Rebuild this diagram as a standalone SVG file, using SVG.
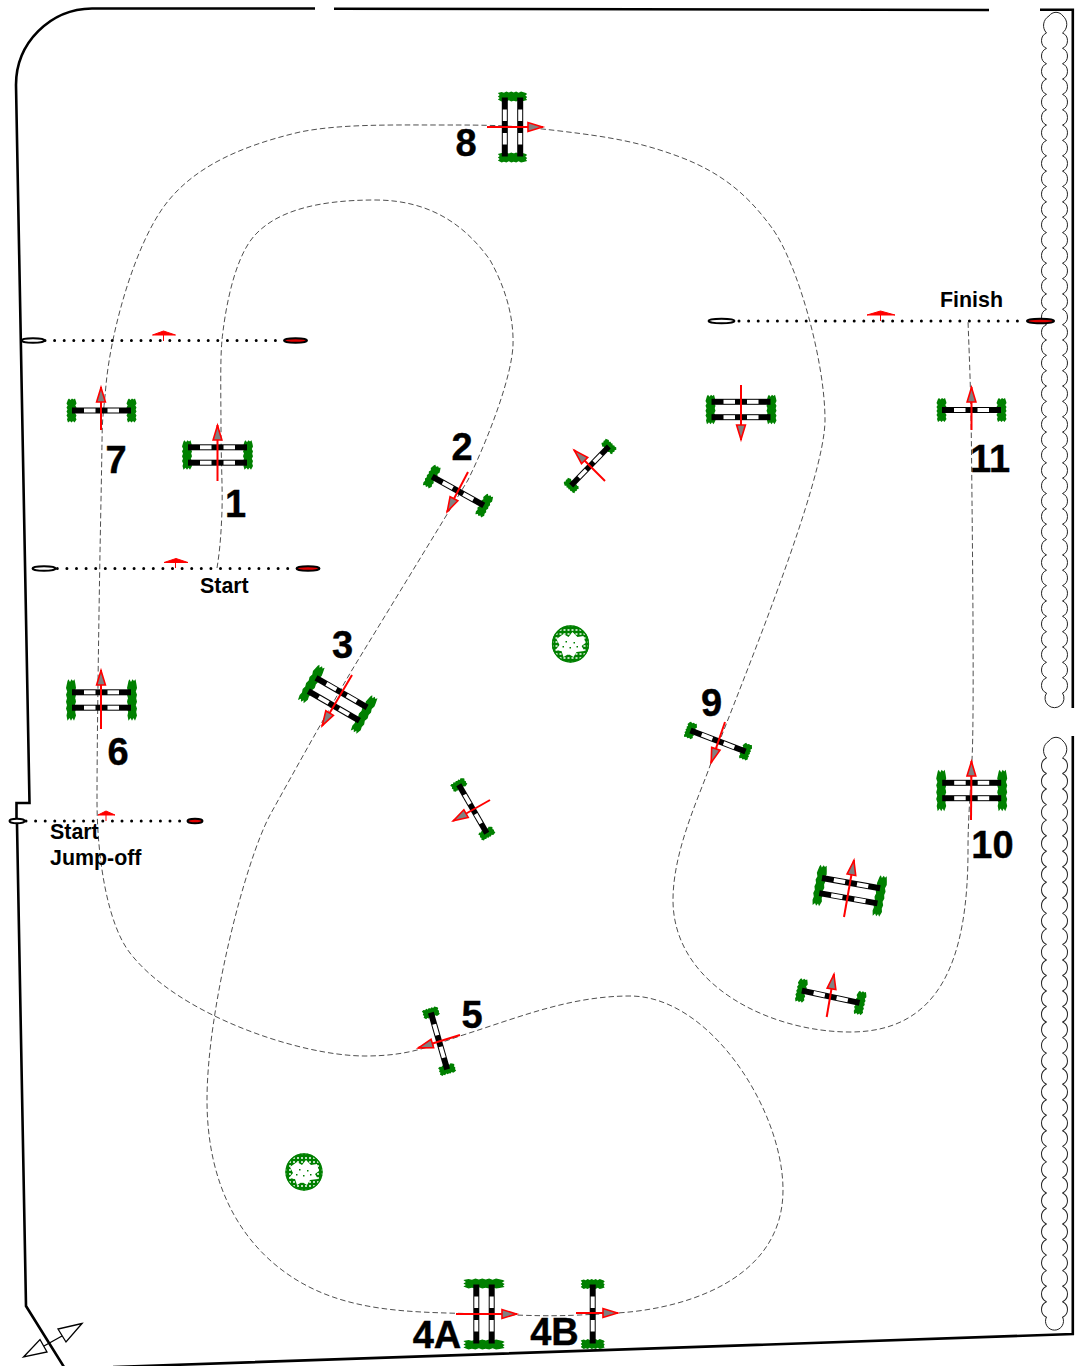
<svg xmlns="http://www.w3.org/2000/svg" width="1078" height="1366" viewBox="0 0 1078 1366">
<style>
.wall{fill:none;stroke:#000;stroke-width:2.6;stroke-linejoin:miter}
.hedge{fill:none;stroke:#222;stroke-width:1}
.course{fill:none;stroke:#222;stroke-width:.8;stroke-dasharray:5.500 3}
.dots{fill:none;stroke:#000;stroke-width:3;stroke-linecap:round;stroke-dasharray:0 9.6}
.post{stroke:#000;stroke-width:2}
.pw{fill:#fff}
.pr{fill:#e00000}
.flag{fill:#f00;stroke:#f00;stroke-width:1}
.arrow{fill:none;stroke:#f00;stroke-width:2;marker-end:url(#ah)}
.num{font-family:"Liberation Sans",Arial,sans-serif;font-weight:700;font-size:38px;fill:#000;stroke:#000;stroke-width:.4;text-anchor:middle}
.lab{font-family:"Liberation Sans",Arial,sans-serif;font-weight:700;font-size:21.4px;fill:#000}
.g{fill:#008000}
.dir{fill:#fff;stroke:#000;stroke-width:1.3}
</style>
<defs>
<marker id="ah" markerUnits="userSpaceOnUse" markerWidth="20" markerHeight="14" refX="17" refY="7" orient="auto">
<path d="M16.5 7L2 2.6V11.4Z" fill="#808080" stroke="#f00" stroke-width="1.6"/>
</marker>
<path id="b" class="g" d="M-3.500-11L-2.500-12L-1-10.500L.5-12L2-11L3.500-12L4.500-9L5-7L3.800-5L5-3L4.200-1L5 1L3.800 3L5 5L4.200 7L5 9L3 12L1.500 10.500L0 12L-1.500 10.500L-3.500 12L-4.500 9L-3.800 7L-5 5L-4 3L-5 1L-4-1L-5-3L-3.800-5L-5-7Z"/>
<g id="rail"><rect x="-29.5" y="-3" width="59" height="6"/><rect class="pw" x="-17.5" y="-2" width="11.5" height="4"/><rect class="pw" x="6" y="-2" width="11.5" height="4"/></g>
<g id="v"><use href="#b" x="-30"/><use href="#b" x="30"/><use href="#rail"/></g>
<g id="vs"><use href="#b" transform="translate(-29.500,0) scale(1,.7)"/><use href="#b" transform="translate(29.500,0) scale(1,.7)"/><use href="#rail"/></g>
<g id="o"><use href="#b" transform="translate(-30.500,0) scale(1,1.220)"/><use href="#b" transform="translate(30.500,0) scale(1,1.220)"/><path class="g" d="M-29-5L-26 0L-29 5ZM29-5L26 0L29 5Z"/><use href="#rail" y="-7.7"/><use href="#rail" y="7.7"/></g>
<g id="ol"><use href="#b" transform="translate(-30.500,0) scale(1,1.720)"/><use href="#b" transform="translate(30.500,0) scale(1,1.720)"/><path class="g" d="M-29-5L-26 0L-29 5ZM29-5L26 0L29 5Z"/><use href="#rail" y="-7.7"/><use href="#rail" y="7.7"/></g>
<pattern id="tp" width="4" height="4" patternUnits="userSpaceOnUse"><rect width="4" height="4" fill="#008000"/><circle cx="2" cy="2" r="1" fill="#fff"/></pattern>
<g id="tree"><circle r="18.5" fill="url(#tp)"/><circle r="18" fill="none" stroke="#008000" stroke-width="1.300"/><path fill="#fff" d="M-14-5L-7-10L-2-7L2-12L7-7L13-8L15-1L11 2L14 7L6 8L3 13L-2 10L-7 13L-9 7L-15 6L-11 1Z"/><path class="g" d="M-5-3h1.500v1.500h-1.500zM3-2h1.500v1.500h-1.500zM-1 3h1.500v1.500h-1.500zM6 2h1.500v1.500H6zM-8 2h1.500v1.500H-8z"/></g>
<path id="sc" d="M1046.500 0a8.400 8.400 0 0 0 0 15.350M1062.500 0a8.400 8.400 0 0 1 0 15.350"/>
<g id="sc4"><use href="#sc"/><use href="#sc" y="15.350"/><use href="#sc" y="30.700"/><use href="#sc" y="46.050"/></g>
<g id="sc12"><use href="#sc4"/><use href="#sc4" y="61.400"/><use href="#sc4" y="122.800"/></g>
</defs>
<g id="walls">
<path class="wall" d="M315 8.500H92C50 9 16 43 16 85L29.500 803H16.500V818M17 824L26 1306L64 1367"/>
<path class="wall" d="M334 8.700L989 10"/>
<path class="wall" d="M1040 9.700H1072.800V708"/>
<path class="wall" d="M1072.800 736V1334L113 1367"/>
</g>
<g id="hedges" class="hedge">
<path d="M1046.500 33A11 11 0 0 1 1049 16A8.500 8.500 0 0 1 1063 16A11 11 0 0 1 1062.500 33"/>
<g transform="translate(0,33)"><use href="#sc12"/><use href="#sc12" y="184.200"/><use href="#sc12" y="368.400"/><use href="#sc" y="552.600"/><use href="#sc" y="567.950"/><use href="#sc" y="583.300"/><use href="#sc" y="598.650"/><use href="#sc" y="614"/><use href="#sc" y="629.350"/><use href="#sc" y="644.700"/></g>
<path d="M1046.500 693.050A9.500 9.500 0 1 0 1062.500 693.050"/>
<path d="M1046.500 758A11 11 0 0 1 1049 741A8.500 8.500 0 0 1 1063 741A11 11 0 0 1 1062.500 758"/>
<g transform="translate(0,758) scale(1,1.012)"><use href="#sc12"/><use href="#sc12" y="184.200"/><use href="#sc12" y="368.400"/></g>
<path d="M1046.500 1317A9 9 0 1 0 1062.500 1317"/>
</g>
<g id="connectors">
<path id="course" class="course" d="M217 568C220 550 221.300 531 222 510S221 458 221 430S220 360 222 340C224 320 232 260 255 235C278 210 320 200 375 200C430 200 465 225 490 260C504 285 514 315 513 345C512 375 490 435 468 480L352 670C325 716 295 770 270 815C245 862 207 1010 207 1100C207 1190 245 1250 300 1282C355 1314 420 1312 484 1314S550 1317 617 1313S783 1280 783 1190C783 1110 710 996 630 996C570 996 520 1017 460 1036C430 1046 410 1056 365 1056C300 1056 178 1015 130 953C108 925 97 860 97 800S99 600 101 500S101 440 106 385C111 330 135 245 165 205C195 165 245 145 300 132C340 124 390 125 440 125S510 125 560 131C610 137 640 142 680 157C725 174 750 198 772 228C797 262 825 360 825 420C825 480 745 675 711 763C700 795 673 850 673 900C673 985 770 1032 850 1032C940 1032 968 960 968 850C968 820 970 800 972 760S973 600 972 500S971 400 968 321"/>
</g>
<g id="start-line">
<path class="dots" d="M45 340.500H280"/><ellipse class="post pw" cx="33" cy="340.500" rx="11.500" ry="2.300"/><ellipse class="post pr" cx="295.500" cy="340.500" rx="11.500" ry="2.300"/>
<path class="flag" d="M152.500 335L163.500 331L175.500 335Z"/><path class="flag" d="M163.500 335V341"/>
</g>
<g id="start-1">
<path class="dots" d="M57.300 568.500H290"/><ellipse class="post pw" cx="44" cy="568.500" rx="11.500" ry="2.300"/><ellipse class="post pr" cx="308" cy="568.500" rx="11.500" ry="2.300"/>
<path class="flag" d="M164 562.500L176 558.500L188 562.500Z"/><path class="flag" d="M175.500 562.500V568"/>
<text class="lab" x="200" y="593">Start</text>
</g>
<g id="start-jumpoff">
<path class="dots" d="M26 821H180"/><ellipse class="post pw" cx="17" cy="821" rx="7.500" ry="2.300"/><ellipse class="post pr" cx="195" cy="821" rx="7.500" ry="2.300"/>
<path class="flag" d="M98 815L106 811L115 815Z"/><path class="flag" d="M106 815V821"/>
<text class="lab" x="50" y="839">Start</text><text class="lab" x="50" y="865">Jump-off</text>
</g>
<g id="finish">
<path class="dots" d="M739 321H1020"/><ellipse class="post pw" cx="721.500" cy="321" rx="13" ry="2.300"/><ellipse class="post pr" cx="1040.500" cy="321" rx="13.500" ry="2.300"/>
<path class="flag" d="M867 315L880.500 311L895 315Z"/><path class="flag" d="M880.500 315V321"/>
<text class="lab" x="940" y="307">Finish</text>
</g>
<g id="jump-1"><use href="#o" transform="translate(217.500,455)"/><path class="arrow" d="M217.500 481V425"/><text class="num" x="235.500" y="517">1</text></g>
<g id="jump-2"><use href="#v" transform="translate(458,491) rotate(29)"/><path class="arrow" d="M468 472L447 512"/><text class="num" x="462" y="460">2</text></g>
<g id="jump-3"><use href="#ol" transform="translate(337.700,699.200) rotate(30)"/><path class="arrow" d="M352 675L322 726"/><text class="num" x="342.500" y="658">3</text></g>
<g id="jump-4a"><use href="#ol" transform="translate(484,1314) rotate(90)"/><path class="arrow" d="M456 1314H517"/><text class="num" x="437" y="1348">4A</text></g>
<g id="jump-4b"><use href="#v" transform="translate(592.700,1314) rotate(90)"/><path class="arrow" d="M576 1313H618"/><text class="num" x="554.500" y="1345">4B</text></g>
<g id="jump-5"><use href="#vs" transform="translate(439,1041) rotate(74)"/><path class="arrow" d="M460 1035L418 1048"/><text class="num" x="472" y="1028">5</text></g>
<g id="jump-6"><use href="#ol" transform="translate(101.500,700)"/><path class="arrow" d="M101 729V670"/><text class="num" x="118" y="765">6</text></g>
<g id="jump-7"><use href="#v" transform="translate(101.500,410.500)"/><path class="arrow" d="M101 430V387"/><text class="num" x="116" y="473">7</text></g>
<g id="jump-8"><use href="#o" transform="translate(512.500,127) rotate(90)"/><path class="arrow" d="M487 127H543"/><text class="num" x="466" y="156">8</text></g>
<g id="jump-9"><use href="#vs" transform="translate(718,741) rotate(21)"/><path class="arrow" d="M725 722L711 763"/><text class="num" x="711.500" y="716">9</text></g>
<g id="jump-10"><use href="#ol" transform="translate(971.700,790.500)"/><path class="arrow" d="M971 820L971.500 761"/><text class="num" x="992.500" y="858">10</text></g>
<g id="jump-11"><use href="#v" transform="translate(971.500,410)"/><path class="arrow" d="M971.500 430V387"/><text class="num" x="990" y="472">11</text></g>
<g id="extra-a"><use href="#o" transform="translate(741,409.500)"/><path class="arrow" d="M741 385V440"/></g>
<g id="extra-b"><use href="#vs" transform="translate(590,466) rotate(-46) scale(.92)"/><path class="arrow" d="M605 481L574 450"/></g>
<g id="extra-c"><use href="#vs" transform="translate(472.800,809) rotate(60) scale(.95)"/><path class="arrow" d="M490 800L453 821"/></g>
<g id="extra-d"><use href="#ol" transform="translate(849.700,890.700) rotate(10)"/><path class="arrow" d="M844 917L854 860"/></g>
<g id="extra-e"><use href="#v" transform="translate(830.700,996.700) rotate(12)"/><path class="arrow" d="M826.700 1017L834 974"/></g>
<g id="tree-1"><use href="#tree" transform="translate(570.500,644)"/></g>
<g id="tree-2"><use href="#tree" transform="translate(304,1172)"/></g>
<g id="direction">
<path fill="none" stroke="#000" stroke-width="1.300" d="M44 1346L62 1336"/>
<path class="dir" d="M82 1323.500L58 1329L66 1342Z"/>
<path class="dir" d="M23.500 1357L40 1339.500L47 1352Z"/>
</g>
</svg>
